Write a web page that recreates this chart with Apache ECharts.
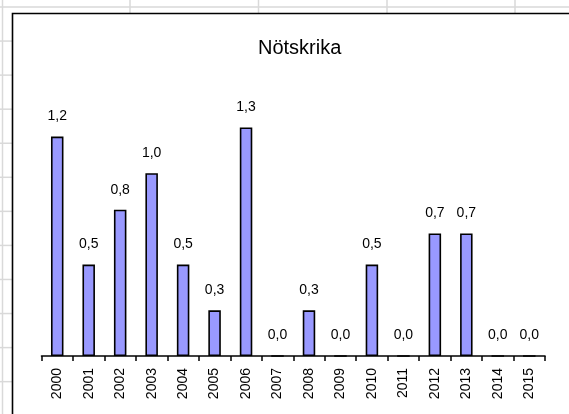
<!DOCTYPE html>
<html>
<head>
<meta charset="utf-8">
<script src="https://cdn.jsdelivr.net/npm/echarts@6/dist/echarts.min.js"></script>
<style>
html,body{margin:0;padding:0;background:#fff;}
#chart{width:569px;height:414px;}
</style>
</head>
<body>
<div id="chart"></div>
<script>
var titleText = 'Nötskrika';
var years = ['2000','2001','2002','2003','2004','2005','2006','2007','2008','2009','2010','2011','2012','2013','2014','2015'];
var values = [1.2, 0.5, 0.8, 1.0, 0.5, 0.25, 1.25, 0, 0.25, 0, 0.5, 0, 0.67, 0.67, 0, 0];

var chart = echarts.init(document.getElementById('chart'), null, {renderer: 'canvas'});

// spreadsheet background gridlines (decoration)
var sheetLines = [];
var gridColor = '#d9d9d9';
sheetLines.push({type: 'line', z: -20, shape: {x1: 0, y1: 7, x2: 569, y2: 7}, style: {stroke: gridColor, lineWidth: 1.5}});
sheetLines.push({type: 'line', z: -20, shape: {x1: 2.5, y1: 0, x2: 2.5, y2: 414}, style: {stroke: gridColor, lineWidth: 1.5}});
[130, 258.5, 387, 515].forEach(function (x) {
  sheetLines.push({type: 'line', z: -20, shape: {x1: x, y1: 0, x2: x, y2: 14}, style: {stroke: gridColor, lineWidth: 1.5}});
});
for (var k = 1; k <= 11; k++) {
  var y = 7 + 34.06 * k;
  sheetLines.push({type: 'line', z: -20, shape: {x1: 0, y1: y, x2: 12, y2: y}, style: {stroke: gridColor, lineWidth: 1.5}});
}
// chart area
sheetLines.push({type: 'rect', z: -10, shape: {x: 12.5, y: 13.5, width: 600, height: 500}, style: {fill: '#ffffff', stroke: '#000000', lineWidth: 1.6}});

chart.setOption({
  animation: false,
  backgroundColor: '#ffffff',
  textStyle: {fontFamily: 'Liberation Sans, Arial, sans-serif'},
  title: {
    text: titleText,
    left: 258,
    top: 38,
    padding: 0,
    textStyle: {fontFamily: 'Liberation Sans, Arial, sans-serif', fontSize: 20, fontWeight: 'normal', color: '#000'}
  },
  graphic: {elements: sheetLines},
  grid: {left: 41.5, right: 24, top: 100, bottom: 58, containLabel: false},
  xAxis: {
    type: 'category',
    data: years,
    boundaryGap: true,
    axisLine: {show: true, lineStyle: {color: '#000', width: 1.6}},
    axisTick: {show: true, length: 5, alignWithLabel: false, lineStyle: {color: '#000', width: 1.5}},
    axisLabel: {
      rotate: 90,
      interval: 0,
      margin: 12,
      fontSize: 14,
      color: '#000',
      fontFamily: 'Liberation Sans, Arial, sans-serif',
      padding: [0, 0, 6, 0]
    },
    splitLine: {show: false}
  },
  yAxis: {
    type: 'value',
    min: 0,
    max: 1.4,
    show: false,
    splitLine: {show: false}
  },
  series: [{
    type: 'bar',
    data: values,
    barWidth: 12.5,
    itemStyle: {color: '#9999ff', borderColor: '#000', borderWidth: 1.6},
    label: {
      show: true,
      position: 'top',
      distance: 13,
      fontSize: 14,
      color: '#000',
      fontFamily: 'Liberation Sans, Arial, sans-serif',
      formatter: function (p) { return p.value.toFixed(1).replace('.', ','); }
    }
  }]
});
</script>
</body>
</html>
